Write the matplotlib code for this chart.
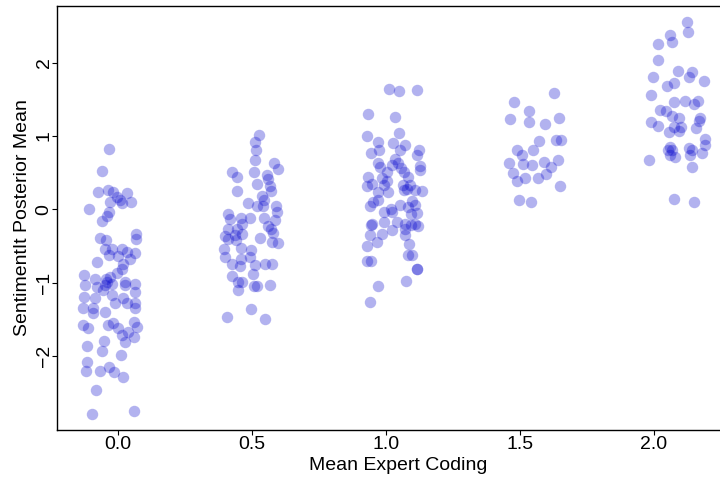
import numpy as np
import matplotlib
matplotlib.use('Agg')
import matplotlib.pyplot as plt

plt.rcParams['font.family'] = ['Liberation Sans', 'DejaVu Sans']

# jittered expert coding (x) and posterior means (y), per expert-coding group
x00 = [-0.032,-0.059,-0.074,-0.038,-0.020,-0.005,0.007,0.032,0.049,0.014,-0.030,-0.108,-0.032,-0.040,
       -0.061,-0.067,-0.045,0.067,0.067,-0.049,-0.024,-0.032,0.014,0.032,0.063,0.001,0.045,-0.079,0.020,
       0.014,-0.005,-0.127,-0.086,-0.045,-0.030,-0.123,-0.079,-0.049,-0.024,0.026,0.026,0.063,-0.055,
       -0.040,-0.024,-0.127,-0.086,0.020,0.063,-0.011,0.032,0.063,0.063,-0.132,-0.094,-0.094,-0.049,
       -0.129,-0.111,-0.036,-0.020,0.001,0.014,0.038,0.026,0.061,0.070,0.061,-0.052,-0.117,-0.061,0.010,
       -0.115,-0.119,-0.067,-0.032,-0.014,0.018,-0.082,-0.098,0.061]
y00 = [0.826,0.521,0.235,0.268,0.235,0.167,0.122,0.222,0.099,0.086,0.099,0.0,-0.037,-0.086,
       -0.163,-0.390,-0.412,-0.340,-0.399,-0.535,-0.535,-0.626,-0.535,-0.581,-0.595,-0.639,-0.671,-0.717,-0.748,
       -0.807,-0.867,-0.898,-0.952,-0.943,-0.921,-1.034,-1.057,-1.034,-1.011,-0.989,-1.034,-1.020,-1.102,
       -0.989,-1.170,-1.193,-1.215,-1.215,-1.125,-1.283,-1.283,-1.283,-1.351,-1.351,-1.351,-1.419,-1.405,
       -1.578,-1.623,-1.578,-1.555,-1.623,-1.714,-1.678,-1.805,-1.533,-1.601,-1.746,-1.792,-1.860,-1.932,-1.986,
       -2.078,-2.204,-2.204,-2.146,-2.214,-2.282,-2.463,-2.793,-2.744]

x05 = [0.526,0.511,0.514,0.511,0.583,0.598,0.424,0.443,0.509,0.555,0.559,0.518,0.567,0.571,0.443,
       0.536,0.546,0.486,0.518,0.542,0.590,0.592,0.412,0.418,0.459,0.494,0.544,0.586,0.464,0.561,0.571,
       0.409,0.443,0.462,0.437,0.399,0.579,0.530,0.574,0.596,0.439,0.412,0.397,0.459,0.496,0.493,0.399,
       0.424,0.459,0.455,0.511,0.549,0.574,0.505,0.427,0.449,0.464,0.509,0.518,0.567,0.447,0.496,0.406,0.549]
y05 = [1.020,0.916,0.803,0.676,0.635,0.554,0.507,0.439,0.507,0.463,0.418,0.340,0.313,0.249,0.245,
       0.177,0.122,0.086,0.041,0.041,0.041,-0.037,-0.068,-0.127,-0.118,-0.113,-0.113,-0.150,-0.195,-0.231,-0.263,
       -0.263,-0.263,-0.331,-0.354,-0.367,-0.322,-0.385,-0.445,-0.459,-0.422,-0.399,-0.535,-0.521,-0.548,-0.649,-0.649,
       -0.739,-0.671,-0.771,-0.762,-0.748,-0.748,-0.888,-0.912,-0.989,-0.989,-1.044,-1.044,-1.034,-1.093,-1.361,-1.465,-1.497]

x10 = [1.012,1.049,1.118,0.934,1.034,0.928,1.049,0.969,1.027,1.071,1.123,0.944,0.974,1.052,1.118,1.034,
       0.971,0.978,1.046,1.021,1.056,1.127,1.127,1.068,1.003,0.934,0.984,1.003,1.083,0.928,0.947,0.994,
       1.065,1.090,1.108,1.135,0.971,1.009,1.078,1.068,0.971,0.953,0.940,1.096,1.108,1.052,1.083,0.994,
       1.019,1.118,0.947,0.994,1.040,1.071,1.108,1.021,1.094,0.944,1.093,1.120,1.071,1.024,0.986,0.940,
       0.965,1.071,1.086,0.928,1.083,1.096,0.928,0.944,1.118,1.118,1.075,0.971,0.940]
y10 = [1.642,1.619,1.629,1.302,1.256,1.007,1.044,0.925,0.907,0.884,0.803,0.766,0.803,0.803,0.735,0.690,
       0.635,0.576,0.635,0.599,0.562,0.589,0.531,0.507,0.507,0.439,0.426,0.381,0.439,0.317,0.350,0.327,
       0.327,0.327,0.259,0.245,0.235,0.235,0.282,0.259,0.122,0.099,0.045,0.109,0.054,0.054,0.031,-0.037,
       0.010,-0.045,-0.195,-0.173,-0.173,-0.195,-0.195,-0.037,-0.068,-0.218,-0.218,-0.231,-0.263,-0.286,-0.340,-0.354,
       -0.445,-0.354,-0.476,-0.503,-0.626,-0.626,-0.703,-0.703,-0.820,-0.820,-0.980,-1.048,-1.261]

x15 = [1.627,1.478,1.535,1.463,1.535,1.593,1.647,1.570,1.634,1.652,1.491,1.550,1.507,1.460,1.512,1.547,
       1.592,1.642,1.618,1.475,1.519,1.491,1.568,1.596,1.649,1.496,1.543]
y15 = [1.588,1.460,1.347,1.234,1.188,1.166,1.242,0.939,0.948,0.948,0.812,0.812,0.735,0.635,0.622,0.599,
       0.644,0.676,0.576,0.494,0.426,0.381,0.426,0.486,0.322,0.122,0.099]

x20 = [2.124,2.128,2.059,2.068,2.016,2.016,2.091,2.143,2.131,2.187,1.997,2.050,2.075,1.988,2.075,2.116,
       2.149,2.165,2.022,2.044,2.068,2.093,2.174,2.170,1.991,2.016,2.075,2.100,2.093,2.056,2.158,2.190,
       2.193,2.062,2.068,2.053,2.131,2.143,2.137,2.180,2.081,2.062,1.981,2.141,2.075,2.151]
y20 = [2.558,2.412,2.381,2.286,2.254,2.037,1.891,1.868,1.800,1.755,1.800,1.687,1.718,1.561,1.469,1.473,
       1.438,1.473,1.356,1.337,1.279,1.248,1.248,1.201,1.188,1.143,1.120,1.129,1.075,1.052,1.112,0.962,
       0.871,0.857,0.812,0.803,0.839,0.812,0.735,0.766,0.712,0.735,0.676,0.576,0.136,0.099]

x = np.concatenate([x00, x05, x10, x15, x20])
y = np.concatenate([y00, y05, y10, y15, y20])

fig = plt.figure(figsize=(7.2, 4.83), dpi=100)
# plot region runs past the right edge of the picture, as in the original
ax = fig.add_axes([0.079, 0.110, 0.947, 0.878])
ax.scatter(x, y, s=68, color=(0.0, 0.0, 0.8), alpha=0.3, linewidths=0)

ax.set_xlim(-0.228, 2.317)
ax.set_ylim(-3.007, 2.776)
ax.set_xticks([0, 0.5, 1.0, 1.5, 2.0])
ax.set_xticklabels(['0.0', '0.5', '1.0', '1.5', '2.0'])
ax.set_yticks([-2, -1, 0, 1, 2])
ax.set_yticklabels(['\u22122', '\u22121', '0', '1', '2'], rotation=90, va='center')
ax.tick_params(direction='out', length=3.5, width=0.8, labelsize=14, colors='black')
ax.tick_params(axis='x', pad=1)
ax.tick_params(axis='y', pad=-0.5)
ax.set_xlabel('Mean Expert Coding', fontsize=14, labelpad=3)
ax.set_ylabel('SentimentIt Posterior Mean', fontsize=14)
ax.yaxis.set_label_coords(-0.038, 0.5)
for sp in ax.spines.values():
    sp.set_linewidth(1.0)

plt.savefig('out.png', dpi=100)
